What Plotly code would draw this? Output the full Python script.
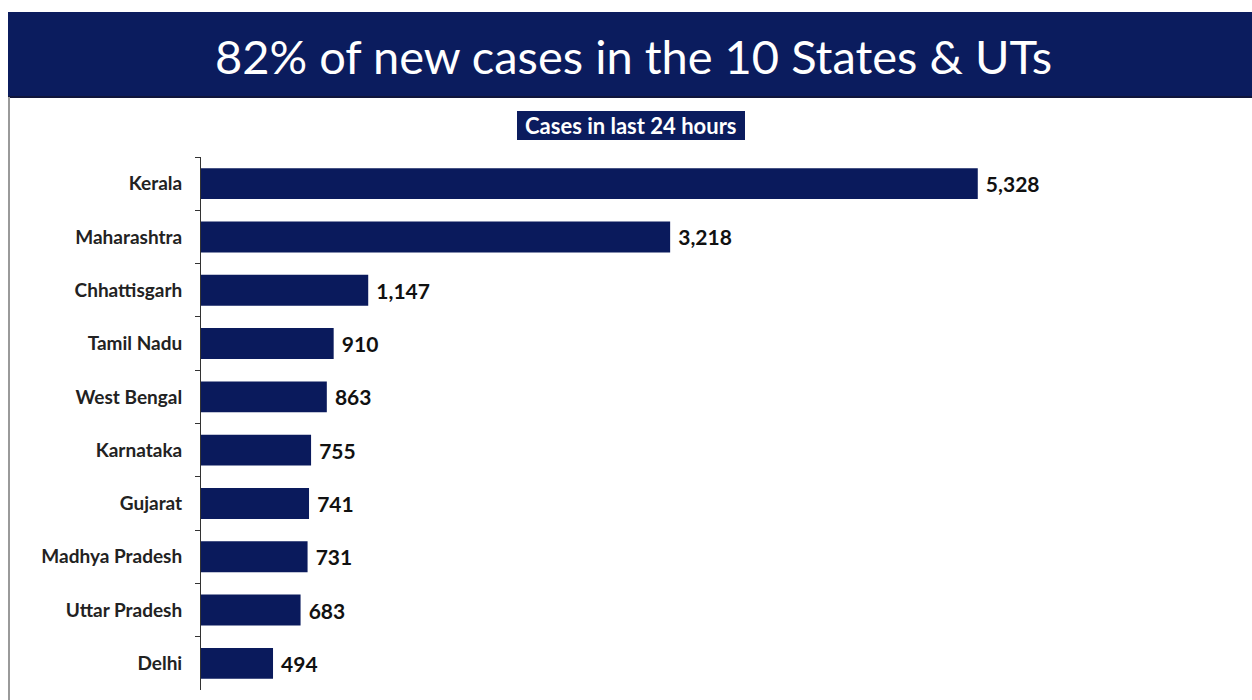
import plotly.graph_objects as go

states = ["Kerala", "Maharashtra", "Chhattisgarh", "Tamil Nadu", "West Bengal",
          "Karnataka", "Gujarat", "Madhya Pradesh", "Uttar Pradesh", "Delhi"]
cases = [5328, 3218, 1147, 910, 863, 755, 741, 731, 683, 494]

title_text = "82% of new cases in the 10 States & UTs"
subtitle_text = "Cases in last 24 hours"

NAVY = "#0b1c5e"
BAR = "#0a1a5c"
W, H = 1252, 700

fig = go.Figure(go.Bar(
    x=cases, y=states, orientation="h",
    marker=dict(color=BAR, line=dict(width=0)),
    texttemplate="<b>\u00a0%{x:,}</b>", textposition="outside",
    textfont=dict(family="Lato", size=21, color="#111111"),
    cliponaxis=False,
    width=0.58,
))

fig.update_layout(
    width=W, height=H,
    margin=dict(l=0, r=0, t=0, b=0),
    paper_bgcolor="white", plot_bgcolor="white",
    showlegend=False,
    xaxis=dict(domain=[201 / W, 1238 / W], range=[0, 7113], visible=False),
    yaxis=dict(domain=[1 - 690 / H, 1 - 157 / H], autorange="reversed",
               showline=True, linecolor="#333333", linewidth=1,
               ticks="outside", tickson="boundaries", ticklen=5, tickcolor="#333333",
               tickfont=dict(family="Lato", size=19, color="#222222", weight="bold"),
               showgrid=False, ticklabelstandoff=14),
    shapes=[
        dict(type="rect", xref="paper", yref="paper", x0=8 / W, x1=1.0,
             y0=1 - 97 / H, y1=1 - 12 / H, fillcolor=NAVY, line=dict(width=0), layer="below"),
        dict(type="line", xref="paper", yref="paper", x0=8 / W, x1=1.0,
             y0=1 - 97 / H, y1=1 - 97 / H, line=dict(color="#10153a", width=2)),
        dict(type="line", xref="paper", yref="paper", x0=9 / W, x1=9 / W,
             y0=0, y1=1 - 97 / H, line=dict(color="#9a9a9a", width=2)),
        dict(type="rect", xref="paper", yref="paper", x0=517 / W, x1=745 / W,
             y0=1 - 140 / H, y1=1 - 111 / H, fillcolor=NAVY, line=dict(width=0), layer="below"),
    ],
    annotations=[
        dict(text=title_text, xref="paper", yref="paper", x=633 / W, y=1 - 56 / H,
             xanchor="center", yanchor="middle", showarrow=False,
             font=dict(family="Lato", size=47, color="white")),
        dict(text="<b>" + subtitle_text + "</b>", xref="paper", yref="paper",
             x=631 / W, y=1 - 125.5 / H, xanchor="center", yanchor="middle", showarrow=False,
             font=dict(family="Lato", size=22, color="white")),
    ],
)

fig.write_html("out.html", config={"displayModeBar": False},
               post_script="document.body.style.margin='0';")
